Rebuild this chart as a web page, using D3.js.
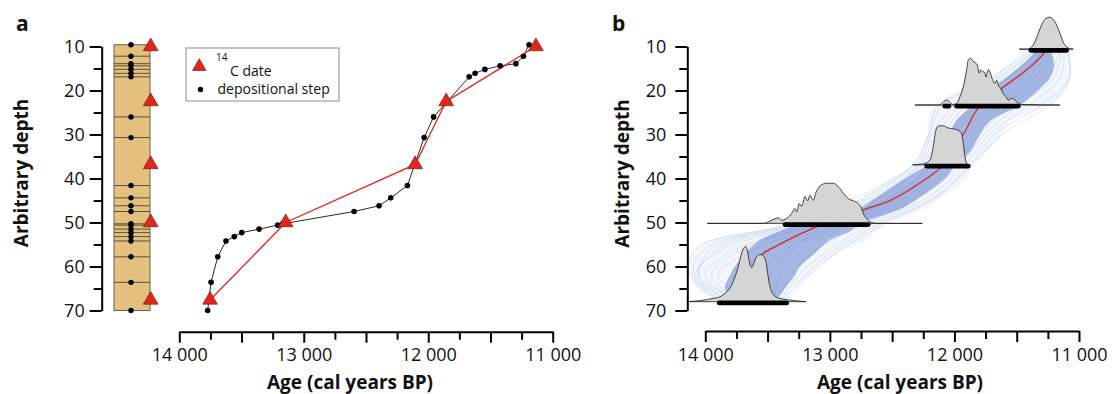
<!DOCTYPE html>
<html><head><meta charset="utf-8">
<script src="https://cdn.jsdelivr.net/npm/d3@7"></script>
<style>
body{margin:0;background:#fff;}
svg{display:block;font-family:"Open Sans","Noto Sans",sans-serif;}
</style></head><body>
<svg id="c" width="1112" height="394"></svg>
<script>
// ---------------- DATA ----------------
const depthTicks = [10,20,30,40,50,60,70];
const depthMinorTicks = [15,25,35,45,55,65];
const ageLabelTicks = [14000,13000,12000,11000];
const ageMajorTicks = [14000,13500,13000,12500,12000,11500,11000];
const ageMinorTicks = [13750,13250,12750,12250,11750,11250];

// Panel a: depositional steps and 14C dates
const stepDepth = [9.6,12.2,13.9,14.4,15.2,16.1,16.9,26.0,30.7,41.6,44.4,46.2,47.5,50.3,50.6,51.5,52.3,53.2,54.2,57.8,63.6,70.0];
const stepAge   = [11190,11235,11296,11422,11545,11623,11671,11957,12033,12167,12301,12395,12596,13170,13209,13359,13498,13558,13625,13691,13745,13772];
const dateDepth = [10,22.5,36.8,50,67.6];
const dateAge   = [11135,11856,12105,13145,13753];

// Panel b: age-depth model envelopes
const modelDepth = [10.6,14,17,20,23.3,27,30,34,37.2,40,45,47,50.3,52,54,57,60,62,65,68];
const outerOld   = [11394,11554,11715,11916,12156,12213,12213,12245,12341,12518,12774,12919,13320,13615,13962,14099,14123,14115,14067,13882];
const outerYoung = [11089,11073,11073,11105,11233,11554,11611,11739,11859,11892,12140,12237,12558,12624,12702,12943,13079,13160,13296,13344];
const innerOld   = [11330,11450,11580,11720,11850,11990,12040,12116,12237,12397,12662,12774,13240,13401,13561,13681,13762,13802,13842,13762];
const innerYoung = [11233,11200,11230,11330,11474,11715,11795,11876,11996,12076,12317,12437,12758,12840,12999,13120,13240,13280,13360,13441];

// individual model iterations (sampled)
const strandDepth = [10.6,17,23.3,30,37,44,50.3,56,62,68];
const strand1  = [11300,11560,11900,12100,12260,12560,13150,13850,14080,13800];
const strand2  = [11330,11620,12000,12180,12300,12650,13250,13950,14050,13700];
const strand3  = [11250,11450,11780,11990,12150,12450,13000,13600,13900,13650];
const strand4  = [11120,11150,11400,11720,11920,12200,12650,13000,13250,13400];
const strand5  = [11100,11080,11300,11680,11880,12150,12600,12950,13200,13380];
const strand6  = [11200,11350,11650,11880,12080,12380,12900,13350,13550,13500];
const strand7  = [11280,11500,11850,12050,12200,12500,13100,13750,14000,13750];
const strand8  = [11150,11250,11550,11800,12000,12300,12800,13200,13400,13450];
const strand9  = [11350,11650,12100,12200,12330,12700,13300,14000,14100,13850];
const strand10 = [11230,11400,11700,11950,12120,12420,12950,13450,13700,13600];
const strand11 = [11380,11700,12130,12210,12340,12760,13320,14080,14120,13880];
const strand12 = [11090,11073,11240,11620,11860,12130,12560,12900,13170,13350];
const strand13 = [11270,11480,11820,12020,12180,12480,13050,13700,13950,13700];
const strand14 = [11180,11300,11600,11840,12040,12340,12850,13300,13480,13480];
const strand15 = [11310,11580,11950,12140,12280,12600,13200,13900,14060,13780];
const strand16 = [11140,11200,11480,11760,11960,12260,12720,13100,13320,13420];

// median model
const medianDepth = [10.6,11.2,15.3,19.5,24,30,37.3,40,44.9,47,50.3,51.3,53.4,55.3,57,59];
const medianAge   = [11266,11274,11420,11621,11809,11929,12103,12223,12510,12718,13039,13133,13294,13427,13534,13593];

// calibrated date densities (relative density, 0-100)
const dens1Age = [11480,11420,11380,11354,11327,11300,11274,11241,11207,11180,11153,11127,11099,11073,11046];
const dens1Val = [0,0,4,13,29,44,54,58,54,44,29,13,4,1,0];
const dens2Age = [12317,12116,12090,12063,12036,12014,11982,11956,11929,11902,11889,11870,11849,11827,11817,11801,11790,11774,11755,11747,11729,11715,11702,11675,11661,11648,11629,11608,11587,11568,11541,11514,11488,11461,11153];
const dens2Val = [0,0,5,9,5,1,3,15,33,64,82,85,79,76,73,58,64,61,59,51,64,61,51,39,45,36,30,21,15,9,12,9,3,1,0];
const dens3Age = [12335,12277,12223,12197,12170,12156,12143,12122,12090,12050,11996,11956,11942,11929,11916,11902,11889];
const dens3Val = [0,1,4,9,33,55,67,71,71,67,65,61,56,39,15,3,0];
const dens4Age = [13984,13534,13481,13414,13387,13347,13307,13280,13266,13246,13226,13200,13178,13160,13133,13112,13079,13026,12973,12933,12892,12852,12812,12772,12745,12732,12705,12678,12624,12258];
const dens4Val = [0,0,4,10,6,9,18,27,21,36,31,49,41,51,42,56,68,73,73,67,55,45,41,36,27,18,9,3,0,0];
const dens5Age = [14149,14043,13936,13882,13828,13788,13762,13735,13716,13700,13676,13663,13649,13636,13628,13615,13601,13583,13561,13534,13513,13499,13486,13467,13441,13400,13320,13192];
const dens5Val = [0,2,6,9,18,30,45,64,82,94,100,94,76,64,62,67,76,83,86,83,73,51,33,18,10,6,3,0];
const densDepth = [10.6,23.3,36.9,50.2,68.0];

// 95% ranges (bars)
const barDepth = [10.6,23.3,23.3,36.9,50.2,68.0];
const barOld   = [11386,11982,12077,12223,13360,13888];
const barYoung = [11099,11488,12045,11889,12692,13347];

// ---------------- DRAW ----------------
const svg = d3.select("#c");
const y = d3.scaleLinear().domain([10,70]).range([46.5,310.5]);
const xA = d3.scaleLinear().domain([14000,11000]).range([179.3,552.7]);
const xB = d3.scaleLinear().domain([14000,11000]).range([705.3,1079]);
const hScale = d3.scaleLinear().domain([0,100]).range([0,55]);
const fmt = d => d3.format(",")(d).replace(",", " ");
const tri = d3.symbol().type(d3.symbolTriangle);

function yAxis(g, x0, pad){
  const gM = g.append("g").attr("transform",`translate(${x0},0)`)
    .call(d3.axisLeft(y).tickValues(depthTicks).tickSize(12).tickSizeOuter(0).tickPadding(pad));
  const gm = g.append("g").attr("transform",`translate(${x0},0)`)
    .call(d3.axisLeft(y).tickValues(depthMinorTicks).tickSize(8).tickFormat(""));
  gm.select(".domain").remove();
  [gM,gm].forEach(a=>{a.selectAll("line,path").attr("stroke","#000").attr("stroke-width",2);});
  gM.selectAll("text").attr("font-size",18).attr("fill","#111").attr("font-family","Open Sans");
}
function xAxis(g, xs, y0){
  const gM = g.append("g").attr("transform",`translate(0,${y0})`)
    .call(d3.axisBottom(xs).tickValues(ageMajorTicks).tickSize(11).tickSizeOuter(0).tickPadding(6)
      .tickFormat(d => ageLabelTicks.includes(d) ? fmt(d) : ""));
  const gm = g.append("g").attr("transform",`translate(0,${y0})`)
    .call(d3.axisBottom(xs).tickValues(ageMinorTicks).tickSize(8).tickFormat(""));
  gm.select(".domain").remove();
  [gM,gm].forEach(a=>{a.selectAll("line,path").attr("stroke","#000").attr("stroke-width",2);});
  gM.selectAll("text").attr("font-size",18).attr("fill","#111").attr("font-family","Open Sans");
}

// ---- Panel a ----
const pa = svg.append("g");
const steps = stepDepth.map((d,i)=>({depth:d, age:stepAge[i]}));
const dates = dateDepth.map((d,i)=>({depth:d, age:dateAge[i]}));

pa.append("rect").attr("x",114).attr("width",36)
  .attr("y",y(stepDepth[0])).attr("height",y(stepDepth[stepDepth.length-1])-y(stepDepth[0]))
  .attr("fill","#e3c07e").attr("stroke","#6b6250").attr("stroke-width",1);
pa.selectAll(".cl").data(steps.slice(1,-1)).join("line")
  .attr("x1",114).attr("x2",150).attr("y1",d=>y(d.depth)).attr("y2",d=>y(d.depth))
  .attr("stroke","#3a3328").attr("stroke-width",0.8);
pa.selectAll(".cd").data(steps).join("circle")
  .attr("cx",131).attr("cy",d=>y(d.depth)).attr("r",2.7).attr("fill","#000");
pa.selectAll(".ct").data(dates).join("path")
  .attr("d",tri.size(95)).attr("transform",d=>`translate(150.7,${y(d.depth)})`)
  .attr("fill","#e3261c").attr("stroke","#5a1510").attr("stroke-width",0.6);

pa.append("path").datum(steps)
  .attr("d",d3.line().x(d=>xA(d.age)).y(d=>y(d.depth)))
  .attr("fill","none").attr("stroke","#111").attr("stroke-width",0.9);
pa.append("path").datum(dates)
  .attr("d",d3.line().x(d=>xA(d.age)).y(d=>y(d.depth)))
  .attr("fill","none").attr("stroke","#e3261c").attr("stroke-width",1.3);
pa.selectAll(".pd").data(steps).join("circle")
  .attr("cx",d=>xA(d.age)).attr("cy",d=>y(d.depth)).attr("r",2.8).attr("fill","#000");
pa.selectAll(".pt").data(dates).join("path")
  .attr("d",tri.size(95)).attr("transform",d=>`translate(${xA(d.age)},${y(d.depth)})`)
  .attr("fill","#e3261c").attr("stroke","#5a1510").attr("stroke-width",0.6);

const lg = pa.append("g");
lg.append("rect").attr("x",186).attr("y",48).attr("width",153).attr("height",53)
  .attr("fill","#fff").attr("stroke","#8a8a8a").attr("stroke-width",1);
lg.append("path").attr("d",tri.size(80)).attr("transform","translate(199.3,66.5)")
  .attr("fill","#e3261c").attr("stroke","#5a1510").attr("stroke-width",0.6);
lg.append("text").attr("x",216).attr("y",61).attr("font-size",10).attr("fill","#111").text("14");
lg.append("text").attr("x",230).attr("y",75.5).attr("font-size",14).attr("fill","#111").text("C date");
lg.append("circle").attr("cx",200.5).attr("cy",89.5).attr("r",2.7).attr("fill","#000");
lg.append("text").attr("x",217.5).attr("y",94).attr("font-size",14).attr("fill","#111").text("depositional step");

yAxis(pa, 101.7, 5);
xAxis(pa, xA, 331.7);
pa.append("text").attr("transform","translate(28,173) rotate(-90)").attr("text-anchor","middle")
  .attr("font-size",19).attr("font-weight","bold").attr("fill","#111").text("Arbitrary depth");
pa.append("text").attr("x",350).attr("y",389).attr("text-anchor","middle")
  .attr("font-size",19).attr("font-weight","bold").attr("fill","#111").text("Age (cal years BP)");
pa.append("text").attr("x",16).attr("y",31).attr("font-size",21).attr("font-weight","bold").attr("fill","#111").text("a");

// ---- Panel b ----
const pb = svg.append("g");
const env = modelDepth.map((d,i)=>({depth:d, oo:outerOld[i], oy:outerYoung[i], io:innerOld[i], iy:innerYoung[i]}));
const blue = "#3a5fc0";
pb.append("path").datum(env)
  .attr("d",d3.area().curve(d3.curveCatmullRom).y(d=>y(d.depth)).x0(d=>xB(d.oo)).x1(d=>xB(d.oy)))
  .attr("fill",blue).attr("fill-opacity",0.06);
const strands = [strand1,strand2,strand3,strand4,strand5,strand6,strand7,strand8,strand9,strand10,strand11,strand12,strand13,strand14,strand15,strand16];
pb.selectAll(".st").data(strands).join("path")
  .attr("d",s=>d3.line().curve(d3.curveCatmullRom).x(d=>xB(d)).y((d,i)=>y(strandDepth[i]))(s))
  .attr("fill","none").attr("stroke",blue).attr("stroke-opacity",0.2).attr("stroke-width",0.8);
pb.append("path").datum(env)
  .attr("d",d3.area().curve(d3.curveCatmullRom).y(d=>y(d.depth)).x0(d=>xB(d.io)).x1(d=>xB(d.iy)))
  .attr("fill",blue).attr("fill-opacity",0.42);

const med = medianDepth.map((d,i)=>({depth:d, age:medianAge[i]}));
pb.append("path").datum(med)
  .attr("d",d3.line().curve(d3.curveCatmullRom).x(d=>xB(d.age)).y(d=>y(d.depth)))
  .attr("fill","none").attr("stroke","#e3261c").attr("stroke-width",1.3);

const dens = [[dens1Age,dens1Val],[dens2Age,dens2Val],[dens3Age,dens3Val],[dens4Age,dens4Val],[dens5Age,dens5Val]];
dens.forEach(([ages,vals],k)=>{
  const pts = ages.map((a,i)=>({age:a, v:vals[i]}));
  const base = y(densDepth[k]);
  pb.append("path").datum(pts)
    .attr("d",d3.area().curve(d3.curveMonotoneX).x(d=>xB(d.age)).y0(base).y1(d=>base-hScale(d.v)))
    .attr("fill","#d5d5d5").attr("stroke","#1a1a1a").attr("stroke-width",0.8);
});
pb.selectAll(".bar").data(barDepth).join("line")
  .attr("x1",(d,i)=>xB(barOld[i])).attr("x2",(d,i)=>xB(barYoung[i]))
  .attr("y1",d=>y(d)+1.2).attr("y2",d=>y(d)+1.2)
  .attr("stroke","#000").attr("stroke-width",4.8).attr("stroke-linecap","round");

yAxis(pb, 687.3, 9);
xAxis(pb, xB, 331);
pb.append("text").attr("transform","translate(629,173.5) rotate(-90)").attr("text-anchor","middle")
  .attr("font-size",19).attr("font-weight","bold").attr("fill","#111").text("Arbitrary depth");
pb.append("text").attr("x",900).attr("y",389).attr("text-anchor","middle")
  .attr("font-size",19).attr("font-weight","bold").attr("fill","#111").text("Age (cal years BP)");
pb.append("text").attr("x",612).attr("y",30.5).attr("font-size",21).attr("font-weight","bold").attr("fill","#111").text("b");
</script>
</body></html>
